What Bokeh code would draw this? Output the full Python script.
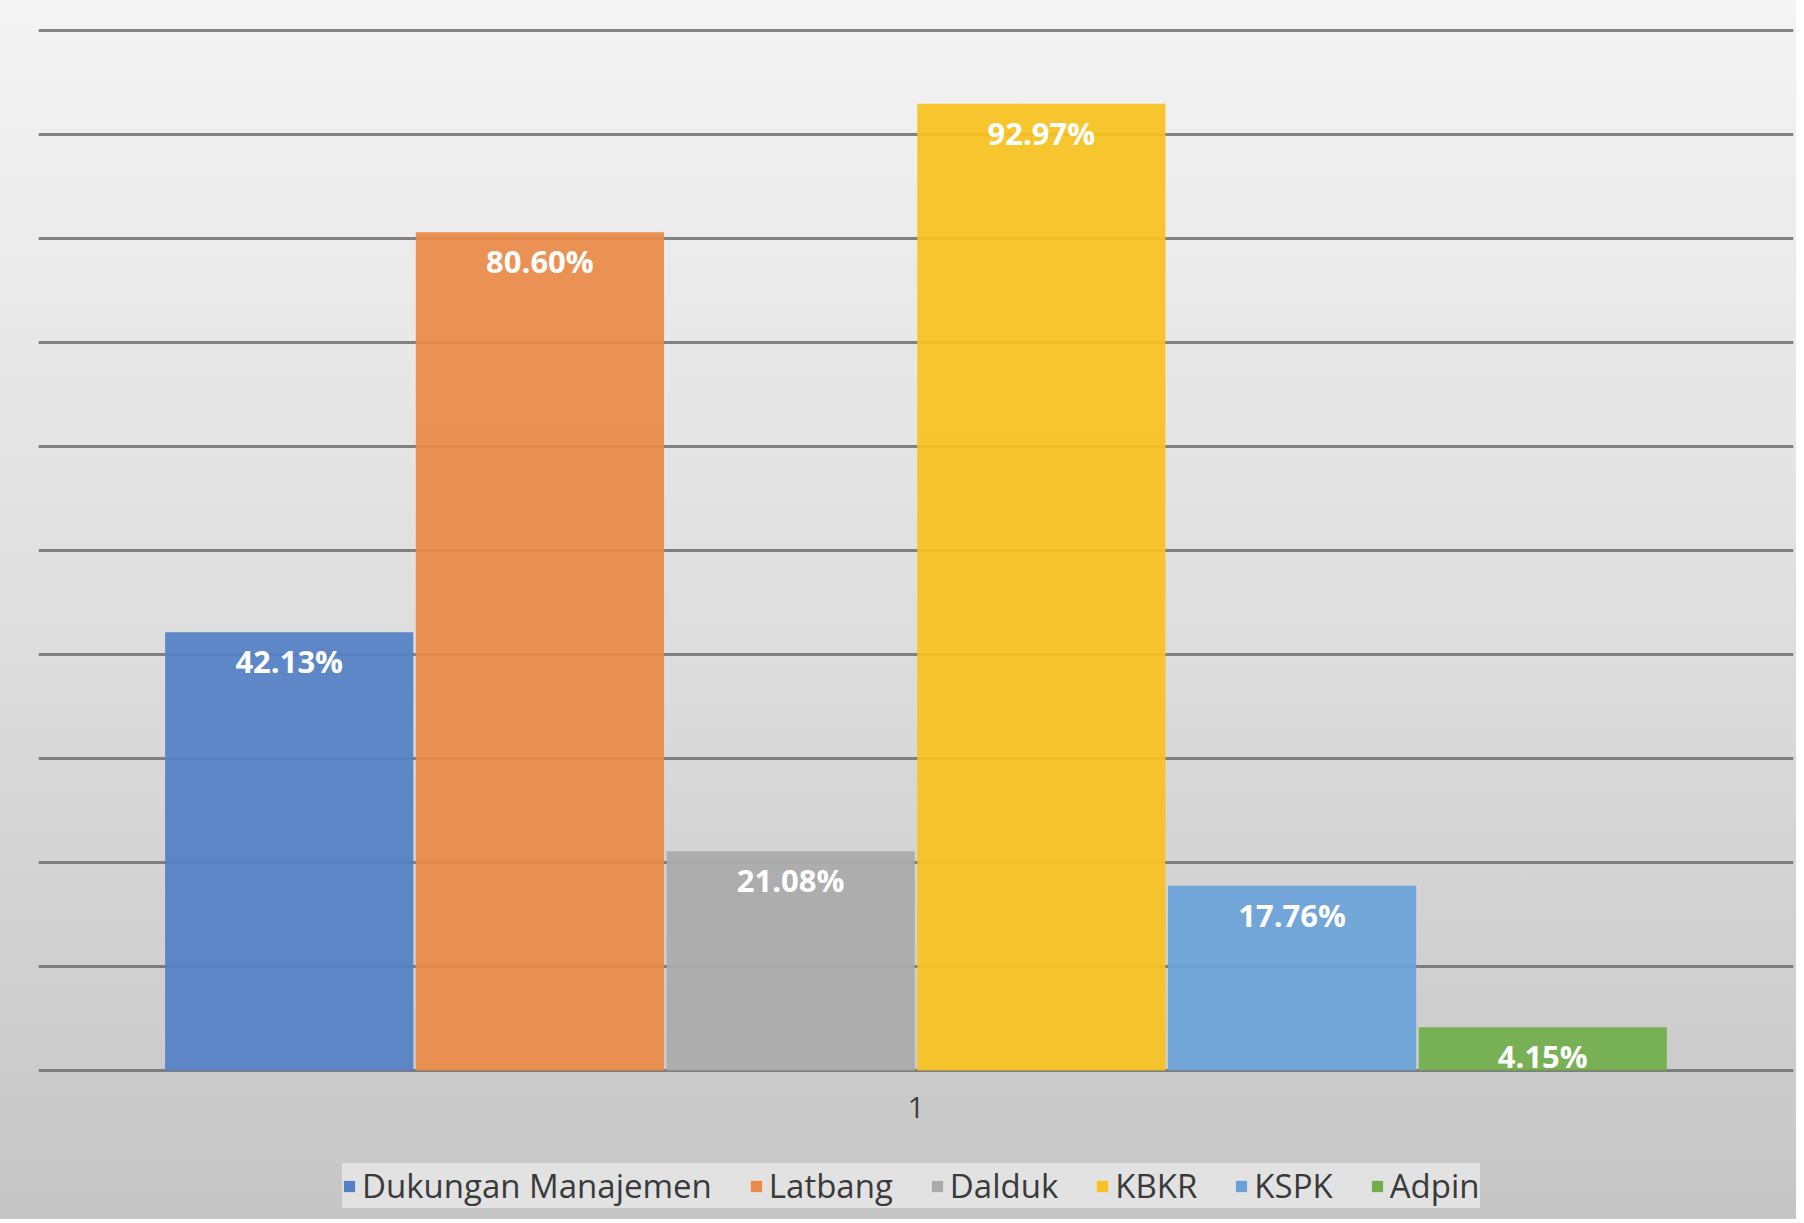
from bokeh.plotting import figure
from bokeh.layouts import column
from bokeh.models import (FactorRange, Range1d, Legend, LegendItem, ColumnDataSource,
                          LabelSet, FixedTicker)
from bokeh.transform import dodge
from bokeh.core.properties import value
from bokeh.embed import file_html
from bokeh.resources import INLINE

categories = ["1"]
series = ["Dukungan Manajemen", "Latbang", "Dalduk", "KBKR", "KSPK", "Adpin"]
values = [42.13, 80.60, 21.08, 92.97, 17.76, 4.15]
labels = ["42.13%", "80.60%", "21.08%", "92.97%", "17.76%", "4.15%"]
colors = ["#5480c6", "#eb8a47", "#aaaaaa", "#f8c31f", "#6aa1d8", "#71ae4b"]
y_ticks = [0, 10, 20, 30, 40, 50, 60, 70, 80, 90, 100]

p = figure(x_range=FactorRange(*categories, range_padding=0),
           y_range=Range1d(-0.3, 100.3),
           frame_width=1755, frame_height=1046, output_backend="svg", toolbar_location=None,
           min_border_left=38, min_border_right=3, min_border_top=27, min_border_bottom=76)

p.styles = {"background-image": "linear-gradient(to bottom, #f4f4f4 0%, #e0e0e0 50%, #cecece 88%, #c9c9c9 100%)"}
p.background_fill_alpha = 0
p.border_fill_alpha = 0
p.outline_line_color = None

n = len(series)
bw = 1.0 / 7
sources = []
for i, (name, val, lab, col) in enumerate(zip(series, values, labels, colors)):
    src = ColumnDataSource(dict(x=categories, top=[val], label=[lab]))
    sources.append(src)
    off = (i - (n - 1) / 2) * bw
    p.vbar(x=dodge("x", off, range=p.x_range), top="top", width=bw * 0.99,
           source=src, fill_color=col, line_color=None, fill_alpha=0.93)
    ls = LabelSet(x=dodge("x", off, range=p.x_range), y="top", text="label", source=src,
                  text_align="center", text_baseline="top", y_offset=-8,
                  text_color="white", text_font=value("Open Sans"), text_font_style="bold",
                  text_font_size="31px")
    p.add_layout(ls)

p.yaxis.visible = False
p.yaxis.ticker = FixedTicker(ticks=y_ticks)
p.ygrid.ticker = FixedTicker(ticks=y_ticks)
p.ygrid.grid_line_color = "#6f6f6f"
p.ygrid.grid_line_width = 3
p.ygrid.grid_line_alpha = 0.85
p.ygrid.level = "underlay"
p.xgrid.visible = False

p.xaxis.axis_line_color = None
p.xaxis.major_tick_line_color = None
p.xaxis.minor_tick_line_color = None
p.xaxis.major_label_standoff = 17
p.xaxis.major_label_text_font = "Open Sans"
p.xaxis.major_label_text_font_size = "30px"
p.xaxis.major_label_text_color = "#404040"

# legend strip below the chart (same series, its bars lie outside this strip's view)
lp = figure(x_range=FactorRange(*categories, range_padding=0), y_range=Range1d(500, 501),
            width=1796, height=70, output_backend="svg", toolbar_location=None,
            x_axis_location=None, y_axis_location=None,
            min_border_left=0, min_border_right=0, min_border_top=0, min_border_bottom=0)
lp.styles = {"background-image": "linear-gradient(to bottom, #c9c9c9 0%, #c5c5c5 100%)"}
lp.background_fill_alpha = 0
lp.border_fill_alpha = 0
lp.outline_line_color = None
lp.grid.visible = False

items = []
for name, col, src in zip(series, colors, sources):
    r = lp.vbar(x="x", top="top", width=0.1, source=src, fill_color=col, line_color=None)
    items.append(LegendItem(label=name, renderers=[r]))

legend = Legend(items=items, orientation="horizontal", location=(304, 11),
                label_text_font="Open Sans", label_text_font_size="33px",
                label_text_color="#3a3a3a", glyph_width=14, glyph_height=14,
                label_standoff=6, spacing=37, padding=14, margin=0,
                background_fill_color="#e6e6e6", background_fill_alpha=0.85,
                border_line_color=None)
lp.add_layout(legend, "center")

layout = column(p, lp, spacing=0)
open("out.html", "w").write(file_html(layout, INLINE))
